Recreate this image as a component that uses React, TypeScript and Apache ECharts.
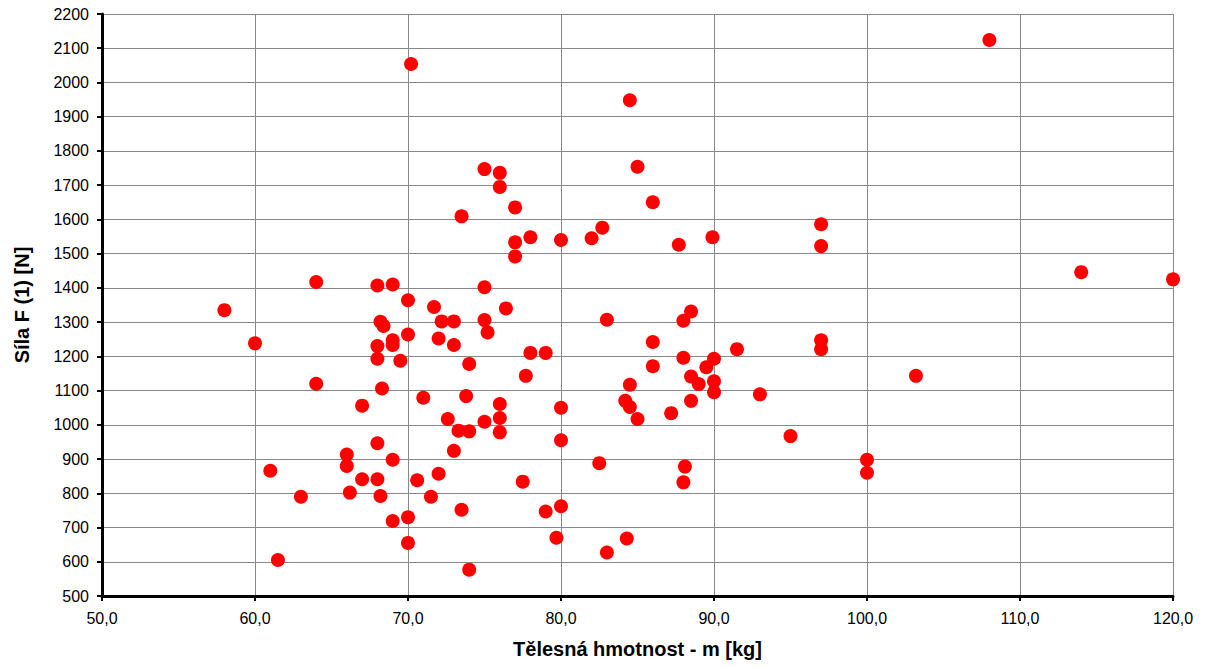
import React, { useEffect, useRef } from "react";
import * as echarts from "echarts";

const massKg: number[] = [
  58.0, 60.0, 61.0, 61.5, 63.0, 64.0, 64.0, 66.0, 66.0, 66.2,
  67.0, 67.0, 68.0, 68.0, 68.0, 68.0, 68.0, 68.2, 68.4, 68.3,
  68.2, 69.0, 69.0, 69.0, 69.0, 69.0, 69.5, 70.0, 70.0, 70.0,
  70.0, 70.2, 71.0, 70.6, 71.7, 72.0, 72.2, 72.0, 71.5, 72.6,
  73.0, 73.0, 73.0, 73.3, 73.5, 73.5, 73.8, 74.0, 74.0, 74.0,
  75.0, 75.0, 75.0, 75.0, 75.2, 76.0, 76.0, 76.0, 76.0, 76.0,
  76.4, 77.0, 77.0, 77.0, 77.7, 77.5, 78.0, 78.0, 79.0, 79.0,
  80.0, 80.0, 80.0, 80.0, 79.7, 82.0, 82.7, 82.5, 83.0, 83.0,
  84.5, 85.0, 86.0, 86.0, 86.0, 84.2, 84.5, 84.5, 85.0, 84.3,
  87.2, 87.7, 88.0, 88.0, 88.1, 88.0, 88.5, 88.5, 88.5, 89.0,
  89.5, 89.9, 90.0, 90.0, 90.0, 91.5, 93.0, 95.0, 97.0, 97.0,
  97.0, 97.0, 100.0, 100.0, 103.2, 108.0, 114.0, 120.0,
];

const forceN: number[] = [
  1335, 1238, 866, 605, 790, 1417, 1120, 913, 880, 802,
  1056, 841, 1407, 1230, 1193, 946, 841, 1301, 1289, 1106,
  792, 1410, 1247, 1233, 898, 719, 1187, 1364, 1264, 730,
  655, 2054, 1079, 838, 1344, 1252, 1302, 857, 790, 1017,
  1302, 1233, 924, 983, 1609, 752, 1084, 1178, 981, 577,
  1747, 1402, 1306, 1009, 1270, 1736, 1695, 1061, 1020, 978,
  1340, 1635, 1533, 1492, 1143, 834, 1548, 1210, 1210, 747,
  1540, 1050, 955, 762, 670, 1545, 1576, 888, 1307, 627,
  1948, 1754, 1650, 1242, 1171, 1070, 1117, 1052, 1017, 668,
  1034, 1526, 1304, 1196, 878, 832, 1331, 1141, 1070, 1119,
  1168, 1548, 1193, 1127, 1095, 1221, 1089, 967, 1586, 1522,
  1247, 1221, 898, 860, 1143, 2124, 1446, 1425,
];

const xAxisTitle = "Tělesná hmotnost - m [kg]";
const yAxisTitle = "Síla F (1) [N]";

export default function App() {
  const ref = useRef<HTMLDivElement>(null);

  useEffect(() => {
    if (!ref.current) return;
    const chart = echarts.init(ref.current, undefined, { renderer: "svg" });
    const data = massKg.map((m, i) => [m, forceN[i]]);
    const font = "'Liberation Sans', Arial, sans-serif";
    chart.setOption({
      animation: false,
      backgroundColor: "#ffffff",
      grid: { left: 102, right: 32, top: 14, bottom: 71, containLabel: false, show: false },
      xAxis: {
        type: "value",
        min: 50,
        max: 120,
        interval: 10,
        name: xAxisTitle,
        nameLocation: "middle",
        nameGap: 43,
        nameTextStyle: { fontFamily: font, fontSize: 20, fontWeight: "bold", color: "#000" },
        axisLine: { show: true, onZero: false, lineStyle: { color: "#000", width: 3 } },
        axisTick: { show: true, inside: false, length: 5, lineStyle: { color: "#000", width: 2 } },
        axisLabel: {
          fontFamily: font,
          fontSize: 16,
          color: "#000",
          margin: 14,
          formatter: (v: number) => v.toFixed(1).replace(".", ","),
        },
        splitLine: { show: true, lineStyle: { color: "#888888", width: 1 } },
      },
      yAxis: {
        type: "value",
        min: 500,
        max: 2200,
        interval: 100,
        name: yAxisTitle,
        nameLocation: "middle",
        nameGap: 70,
        nameTextStyle: { fontFamily: font, fontSize: 20, fontWeight: "bold", color: "#000" },
        axisLine: { show: true, onZero: false, lineStyle: { color: "#000", width: 3 } },
        axisTick: { show: true, inside: false, length: 5, lineStyle: { color: "#000", width: 2 } },
        axisLabel: {
          fontFamily: font,
          fontSize: 16,
          color: "#000",
          margin: 13,
          formatter: (v: number) => String(v),
        },
        splitLine: { show: true, lineStyle: { color: "#888888", width: 1 } },
      },
      series: [
        {
          type: "scatter",
          data,
          symbol: "circle",
          symbolSize: 14,
          itemStyle: { color: "#ff0000", opacity: 1 },
          emphasis: { disabled: true },
          clip: false,
        },
      ],
    });
    return () => chart.dispose();
  }, []);

  return <div ref={ref} style={{ width: 1205, height: 667, position: "absolute", left: 0, top: 0 }} />;
}
